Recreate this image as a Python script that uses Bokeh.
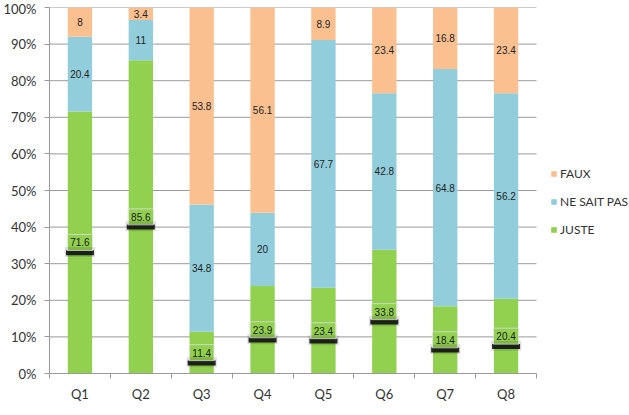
from bokeh.plotting import figure
from bokeh.models import ColumnDataSource, Legend, LegendItem, FixedTicker, Range1d
from bokeh.transform import dodge
from bokeh.core.properties import value
from bokeh.embed import file_html
from bokeh.resources import INLINE

categories = ["Q1", "Q2", "Q3", "Q4", "Q5", "Q6", "Q7", "Q8"]
juste = [71.6, 85.6, 11.4, 23.9, 23.4, 33.8, 18.4, 20.4]
ne_sait_pas = [20.4, 11, 34.8, 20, 67.7, 42.8, 64.8, 56.2]
faux = [8, 3.4, 53.8, 56.1, 8.9, 23.4, 16.8, 23.4]
series_names = ["JUSTE", "NE SAIT PAS", "FAUX"]
series_colors = ["#92D050", "#92CDDC", "#FAC090"]
y_ticks = list(range(0, 101, 10))

FONT = "Lato"
GRID = "#9a9a9a"

n = len(categories)
xs = [i + 0.5 for i in range(n)]
data = {"x": xs, "cat": categories}
for name, vals in zip(series_names, [juste, ne_sait_pas, faux]):
    data[name] = vals
source = ColumnDataSource(data)

# frame extends to the right edge so the legend can sit beside the bars
p = figure(width=629, height=415, output_backend="svg", toolbar_location=None,
           x_range=Range1d(0, n * 580 / 487), y_range=Range1d(0, 100),
           min_border_left=49, min_border_right=0, min_border_top=7, min_border_bottom=42)
p.outline_line_color = None
p.background_fill_color = "white"
p.xgrid.visible = False
p.ygrid.visible = False

# horizontal grid lines limited to the category area
grid_src = ColumnDataSource(dict(y=y_ticks, x0=[0] * len(y_ticks), x1=[n] * len(y_ticks)))
p.segment(x0="x0", x1="x1", y0="y", y1="y", source=grid_src, line_color=GRID, line_width=1)

renderers = p.vbar_stack(series_names, x="x", width=0.4, source=source,
                         color=series_colors, line_color=None)

# segment labels
label_sources = []
bottoms = [0.0] * n
for name, vals in zip(series_names, [juste, ne_sait_pas, faux]):
    mids = [b + v / 2 for b, v in zip(bottoms, vals)]
    bottoms = [b + v for b, v in zip(bottoms, vals)]
    label_sources.append(ColumnDataSource(dict(x=xs, mid=mids, label=[f"{v:g}" for v in vals])))

# callout style for JUSTE labels
js = label_sources[0]
p.rect(x="x", y=dodge("mid", -2.6, range=p.y_range), width=0.5, height=10, height_units="screen",
       source=js, fill_color="#000000", fill_alpha=0.12, line_color=None)
p.rect(x="x", y=dodge("mid", -2.8, range=p.y_range), width=0.46, height=5, height_units="screen",
       source=js, fill_color="#111111", fill_alpha=0.9, line_color=None)
p.text(x="x", y="mid", text="label", source=js, text_align="center", text_baseline="middle",
       text_font=value("Liberation Sans"), text_font_size="10px", text_color="#1a1a1a",
       padding=[3, 4], border_line_color="#dddddd", border_line_alpha=0.8,
       background_fill_color=None)

for src in label_sources[1:]:
    p.text(x="x", y="mid", text="label", source=src, text_align="center", text_baseline="middle",
           text_font=value("Liberation Sans"), text_font_size="10px", text_color="#222222")

# axes
p.yaxis.ticker = FixedTicker(ticks=y_ticks)
p.yaxis.major_label_overrides = {t: f"{t}%" for t in y_ticks}
p.yaxis.axis_line_color = GRID
p.yaxis.major_tick_line_color = GRID
p.yaxis.major_tick_out = 5
p.yaxis.major_tick_in = 0
p.yaxis.minor_tick_line_color = None
p.yaxis.major_label_standoff = 8
p.yaxis.major_label_text_font = FONT
p.yaxis.major_label_text_font_size = "13px"
p.yaxis.major_label_text_color = "#333333"

p.xaxis.bounds = (0, n)
p.xaxis.ticker = FixedTicker(ticks=xs, minor_ticks=list(range(n + 1)))
p.xaxis.major_label_overrides = {x: c for x, c in zip(xs, categories)}
p.xaxis.axis_line_color = GRID
p.xaxis.major_tick_line_color = None
p.xaxis.minor_tick_line_color = GRID
p.xaxis.minor_tick_out = 5
p.xaxis.minor_tick_in = 0
p.xaxis.major_label_standoff = 6
p.xaxis.major_label_text_font = FONT
p.xaxis.major_label_text_font_size = "13px"
p.xaxis.major_label_text_color = "#333333"

legend = Legend(items=[LegendItem(label=series_names[i], renderers=[renderers[i]]) for i in (2, 1, 0)],
                location=(501, 134), orientation="vertical", glyph_width=7, glyph_height=7,
                label_text_font=FONT, label_text_font_size="12px", label_text_color="#333333",
                label_height=20, spacing=8, padding=0, margin=0, label_standoff=3,
                border_line_color=None, background_fill_alpha=0)
p.add_layout(legend)

open("out.html", "w").write(file_html(p, INLINE))
